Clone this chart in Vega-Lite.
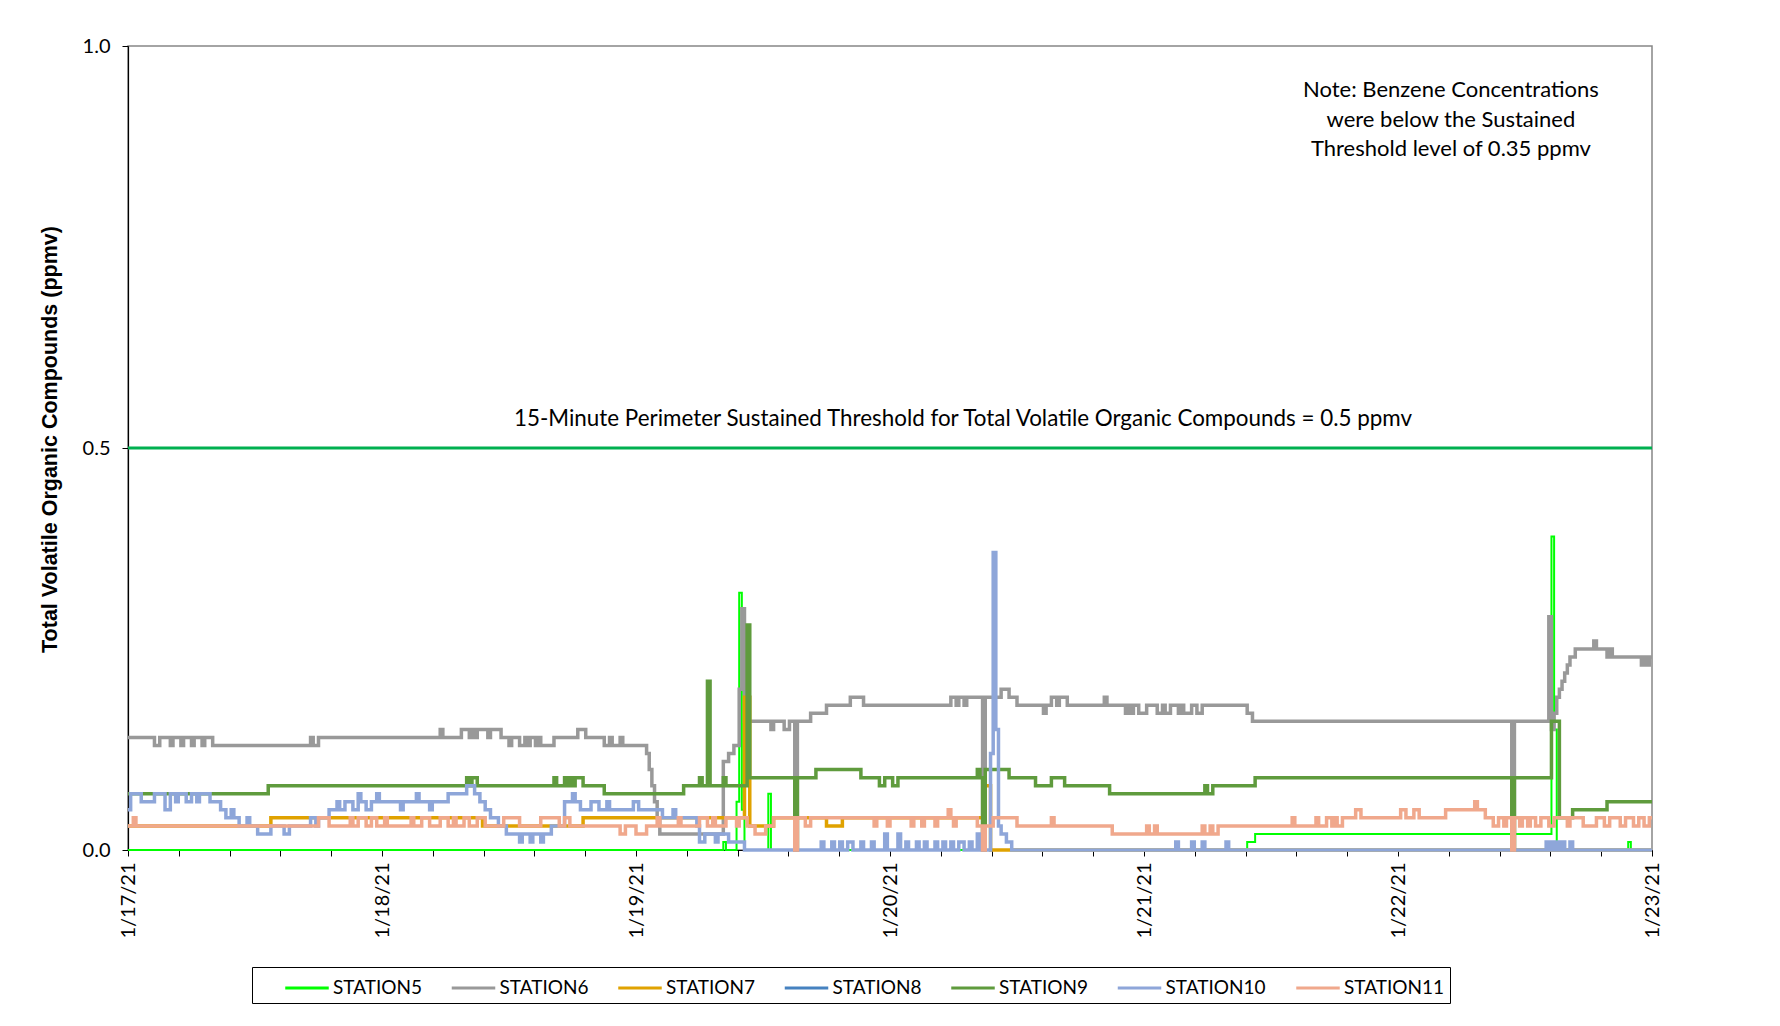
{
  "$schema": "https://vega.github.io/schema/vega-lite/v6.json",
  "autosize": "none",
  "width": 1524,
  "height": 804,
  "padding": {"left": 128, "top": 46, "right": 128, "bottom": 176},
  "background": "white",
  "config": {
    "view": {"stroke": "#868686", "strokeWidth": 1.5},
    "font": "Lato"
  },
  "data": {
    "values": [
      {"station":"STATION5","time":"2021-01-17T00:00","ppmv":0},
      {"station":"STATION5","time":"2021-01-19T08:15","ppmv":0.01},
      {"station":"STATION5","time":"2021-01-19T08:30","ppmv":0},
      {"station":"STATION5","time":"2021-01-19T09:30","ppmv":0.06},
      {"station":"STATION5","time":"2021-01-19T09:45","ppmv":0.32},
      {"station":"STATION5","time":"2021-01-19T10:00","ppmv":0.05},
      {"station":"STATION5","time":"2021-01-19T10:15","ppmv":0},
      {"station":"STATION5","time":"2021-01-19T12:30","ppmv":0.07},
      {"station":"STATION5","time":"2021-01-19T12:45","ppmv":0},
      {"station":"STATION5","time":"2021-01-21T09:45","ppmv":0.01},
      {"station":"STATION5","time":"2021-01-21T10:30","ppmv":0.02},
      {"station":"STATION5","time":"2021-01-22T14:30","ppmv":0.39},
      {"station":"STATION5","time":"2021-01-22T14:45","ppmv":0.15},
      {"station":"STATION5","time":"2021-01-22T15:00","ppmv":0},
      {"station":"STATION5","time":"2021-01-22T21:45","ppmv":0.01},
      {"station":"STATION5","time":"2021-01-22T22:00","ppmv":0},
      {"station":"STATION5","time":"2021-01-23T00:00","ppmv":0},

      {"station":"STATION6","time":"2021-01-17T00:00","ppmv":0.14},
      {"station":"STATION6","time":"2021-01-17T02:30","ppmv":0.13},
      {"station":"STATION6","time":"2021-01-17T03:00","ppmv":0.14},
      {"station":"STATION6","time":"2021-01-17T04:00","ppmv":0.13},
      {"station":"STATION6","time":"2021-01-17T04:15","ppmv":0.14},
      {"station":"STATION6","time":"2021-01-17T05:00","ppmv":0.13},
      {"station":"STATION6","time":"2021-01-17T05:15","ppmv":0.14},
      {"station":"STATION6","time":"2021-01-17T06:00","ppmv":0.13},
      {"station":"STATION6","time":"2021-01-17T06:15","ppmv":0.14},
      {"station":"STATION6","time":"2021-01-17T07:00","ppmv":0.13},
      {"station":"STATION6","time":"2021-01-17T07:15","ppmv":0.14},
      {"station":"STATION6","time":"2021-01-17T08:00","ppmv":0.13},
      {"station":"STATION6","time":"2021-01-17T17:15","ppmv":0.14},
      {"station":"STATION6","time":"2021-01-17T17:30","ppmv":0.13},
      {"station":"STATION6","time":"2021-01-17T18:00","ppmv":0.14},
      {"station":"STATION6","time":"2021-01-18T05:30","ppmv":0.15},
      {"station":"STATION6","time":"2021-01-18T05:45","ppmv":0.14},
      {"station":"STATION6","time":"2021-01-18T07:30","ppmv":0.15},
      {"station":"STATION6","time":"2021-01-18T08:15","ppmv":0.14},
      {"station":"STATION6","time":"2021-01-18T08:30","ppmv":0.15},
      {"station":"STATION6","time":"2021-01-18T08:45","ppmv":0.14},
      {"station":"STATION6","time":"2021-01-18T09:00","ppmv":0.15},
      {"station":"STATION6","time":"2021-01-18T10:00","ppmv":0.14},
      {"station":"STATION6","time":"2021-01-18T10:15","ppmv":0.15},
      {"station":"STATION6","time":"2021-01-18T11:15","ppmv":0.14},
      {"station":"STATION6","time":"2021-01-18T12:00","ppmv":0.13},
      {"station":"STATION6","time":"2021-01-18T12:15","ppmv":0.14},
      {"station":"STATION6","time":"2021-01-18T13:00","ppmv":0.13},
      {"station":"STATION6","time":"2021-01-18T13:30","ppmv":0.14},
      {"station":"STATION6","time":"2021-01-18T13:45","ppmv":0.13},
      {"station":"STATION6","time":"2021-01-18T14:00","ppmv":0.14},
      {"station":"STATION6","time":"2021-01-18T14:30","ppmv":0.13},
      {"station":"STATION6","time":"2021-01-18T14:45","ppmv":0.14},
      {"station":"STATION6","time":"2021-01-18T15:00","ppmv":0.13},
      {"station":"STATION6","time":"2021-01-18T16:15","ppmv":0.14},
      {"station":"STATION6","time":"2021-01-18T18:30","ppmv":0.15},
      {"station":"STATION6","time":"2021-01-18T19:15","ppmv":0.14},
      {"station":"STATION6","time":"2021-01-18T21:00","ppmv":0.13},
      {"station":"STATION6","time":"2021-01-18T21:30","ppmv":0.14},
      {"station":"STATION6","time":"2021-01-18T21:45","ppmv":0.13},
      {"station":"STATION6","time":"2021-01-18T22:30","ppmv":0.14},
      {"station":"STATION6","time":"2021-01-18T22:45","ppmv":0.13},
      {"station":"STATION6","time":"2021-01-19T01:00","ppmv":0.12},
      {"station":"STATION6","time":"2021-01-19T01:15","ppmv":0.10},
      {"station":"STATION6","time":"2021-01-19T01:30","ppmv":0.08},
      {"station":"STATION6","time":"2021-01-19T01:45","ppmv":0.06},
      {"station":"STATION6","time":"2021-01-19T02:00","ppmv":0.04},
      {"station":"STATION6","time":"2021-01-19T02:15","ppmv":0.02},
      {"station":"STATION6","time":"2021-01-19T08:15","ppmv":0.11},
      {"station":"STATION6","time":"2021-01-19T08:45","ppmv":0.12},
      {"station":"STATION6","time":"2021-01-19T09:15","ppmv":0.13},
      {"station":"STATION6","time":"2021-01-19T09:45","ppmv":0.20},
      {"station":"STATION6","time":"2021-01-19T10:00","ppmv":0.30},
      {"station":"STATION6","time":"2021-01-19T10:15","ppmv":0.16},
      {"station":"STATION6","time":"2021-01-19T12:45","ppmv":0.15},
      {"station":"STATION6","time":"2021-01-19T13:00","ppmv":0.16},
      {"station":"STATION6","time":"2021-01-19T14:00","ppmv":0.15},
      {"station":"STATION6","time":"2021-01-19T14:30","ppmv":0.16},
      {"station":"STATION6","time":"2021-01-19T15:00","ppmv":0},
      {"station":"STATION6","time":"2021-01-19T15:15","ppmv":0.16},
      {"station":"STATION6","time":"2021-01-19T16:30","ppmv":0.17},
      {"station":"STATION6","time":"2021-01-19T18:00","ppmv":0.18},
      {"station":"STATION6","time":"2021-01-19T20:15","ppmv":0.19},
      {"station":"STATION6","time":"2021-01-19T21:30","ppmv":0.18},
      {"station":"STATION6","time":"2021-01-20T05:45","ppmv":0.19},
      {"station":"STATION6","time":"2021-01-20T06:15","ppmv":0.18},
      {"station":"STATION6","time":"2021-01-20T06:30","ppmv":0.19},
      {"station":"STATION6","time":"2021-01-20T07:00","ppmv":0.18},
      {"station":"STATION6","time":"2021-01-20T07:15","ppmv":0.19},
      {"station":"STATION6","time":"2021-01-20T08:45","ppmv":0},
      {"station":"STATION6","time":"2021-01-20T09:00","ppmv":0.19},
      {"station":"STATION6","time":"2021-01-20T10:30","ppmv":0.20},
      {"station":"STATION6","time":"2021-01-20T11:15","ppmv":0.19},
      {"station":"STATION6","time":"2021-01-20T12:00","ppmv":0.18},
      {"station":"STATION6","time":"2021-01-20T14:30","ppmv":0.17},
      {"station":"STATION6","time":"2021-01-20T14:45","ppmv":0.18},
      {"station":"STATION6","time":"2021-01-20T15:15","ppmv":0.19},
      {"station":"STATION6","time":"2021-01-20T15:45","ppmv":0.18},
      {"station":"STATION6","time":"2021-01-20T16:00","ppmv":0.19},
      {"station":"STATION6","time":"2021-01-20T16:45","ppmv":0.18},
      {"station":"STATION6","time":"2021-01-20T20:15","ppmv":0.19},
      {"station":"STATION6","time":"2021-01-20T20:30","ppmv":0.18},
      {"station":"STATION6","time":"2021-01-20T22:15","ppmv":0.17},
      {"station":"STATION6","time":"2021-01-20T22:30","ppmv":0.18},
      {"station":"STATION6","time":"2021-01-20T22:45","ppmv":0.17},
      {"station":"STATION6","time":"2021-01-20T23:00","ppmv":0.18},
      {"station":"STATION6","time":"2021-01-20T23:30","ppmv":0.17},
      {"station":"STATION6","time":"2021-01-21T00:15","ppmv":0.18},
      {"station":"STATION6","time":"2021-01-21T01:15","ppmv":0.17},
      {"station":"STATION6","time":"2021-01-21T01:45","ppmv":0.18},
      {"station":"STATION6","time":"2021-01-21T02:00","ppmv":0.17},
      {"station":"STATION6","time":"2021-01-21T02:30","ppmv":0.18},
      {"station":"STATION6","time":"2021-01-21T03:15","ppmv":0.17},
      {"station":"STATION6","time":"2021-01-21T03:30","ppmv":0.18},
      {"station":"STATION6","time":"2021-01-21T03:45","ppmv":0.17},
      {"station":"STATION6","time":"2021-01-21T04:30","ppmv":0.18},
      {"station":"STATION6","time":"2021-01-21T05:00","ppmv":0.17},
      {"station":"STATION6","time":"2021-01-21T05:30","ppmv":0.18},
      {"station":"STATION6","time":"2021-01-21T09:45","ppmv":0.17},
      {"station":"STATION6","time":"2021-01-21T10:15","ppmv":0.16},
      {"station":"STATION6","time":"2021-01-22T10:45","ppmv":0},
      {"station":"STATION6","time":"2021-01-22T11:00","ppmv":0.16},
      {"station":"STATION6","time":"2021-01-22T14:15","ppmv":0.29},
      {"station":"STATION6","time":"2021-01-22T14:30","ppmv":0.15},
      {"station":"STATION6","time":"2021-01-22T14:45","ppmv":0.17},
      {"station":"STATION6","time":"2021-01-22T15:00","ppmv":0.19},
      {"station":"STATION6","time":"2021-01-22T15:15","ppmv":0.20},
      {"station":"STATION6","time":"2021-01-22T15:30","ppmv":0.21},
      {"station":"STATION6","time":"2021-01-22T15:45","ppmv":0.22},
      {"station":"STATION6","time":"2021-01-22T16:00","ppmv":0.23},
      {"station":"STATION6","time":"2021-01-22T16:15","ppmv":0.24},
      {"station":"STATION6","time":"2021-01-22T16:45","ppmv":0.25},
      {"station":"STATION6","time":"2021-01-22T18:30","ppmv":0.26},
      {"station":"STATION6","time":"2021-01-22T18:45","ppmv":0.25},
      {"station":"STATION6","time":"2021-01-22T19:45","ppmv":0.24},
      {"station":"STATION6","time":"2021-01-22T20:00","ppmv":0.25},
      {"station":"STATION6","time":"2021-01-22T20:15","ppmv":0.24},
      {"station":"STATION6","time":"2021-01-22T23:00","ppmv":0.23},
      {"station":"STATION6","time":"2021-01-22T23:15","ppmv":0.24},
      {"station":"STATION6","time":"2021-01-22T23:30","ppmv":0.23},
      {"station":"STATION6","time":"2021-01-22T23:45","ppmv":0.24},
      {"station":"STATION6","time":"2021-01-23T00:00","ppmv":0.24},

      {"station":"STATION7","time":"2021-01-17T00:00","ppmv":0.03},
      {"station":"STATION7","time":"2021-01-17T13:30","ppmv":0.04},
      {"station":"STATION7","time":"2021-01-18T09:30","ppmv":0.03},
      {"station":"STATION7","time":"2021-01-18T19:00","ppmv":0.04},
      {"station":"STATION7","time":"2021-01-19T10:15","ppmv":0.19},
      {"station":"STATION7","time":"2021-01-19T10:45","ppmv":0.03},
      {"station":"STATION7","time":"2021-01-19T13:00","ppmv":0.04},
      {"station":"STATION7","time":"2021-01-19T18:00","ppmv":0.03},
      {"station":"STATION7","time":"2021-01-19T19:30","ppmv":0.04},
      {"station":"STATION7","time":"2021-01-20T09:00","ppmv":0.08},
      {"station":"STATION7","time":"2021-01-20T09:30","ppmv":0},
      {"station":"STATION7","time":"2021-01-23T00:00","ppmv":0},

      {"station":"STATION9","time":"2021-01-17T00:00","ppmv":0.07},
      {"station":"STATION9","time":"2021-01-17T13:15","ppmv":0.08},
      {"station":"STATION9","time":"2021-01-18T08:00","ppmv":0.09},
      {"station":"STATION9","time":"2021-01-18T08:15","ppmv":0.08},
      {"station":"STATION9","time":"2021-01-18T08:30","ppmv":0.09},
      {"station":"STATION9","time":"2021-01-18T09:00","ppmv":0.08},
      {"station":"STATION9","time":"2021-01-18T16:15","ppmv":0.09},
      {"station":"STATION9","time":"2021-01-18T16:30","ppmv":0.08},
      {"station":"STATION9","time":"2021-01-18T17:15","ppmv":0.09},
      {"station":"STATION9","time":"2021-01-18T17:30","ppmv":0.08},
      {"station":"STATION9","time":"2021-01-18T17:45","ppmv":0.09},
      {"station":"STATION9","time":"2021-01-18T18:00","ppmv":0.08},
      {"station":"STATION9","time":"2021-01-18T18:15","ppmv":0.09},
      {"station":"STATION9","time":"2021-01-18T19:00","ppmv":0.08},
      {"station":"STATION9","time":"2021-01-18T21:00","ppmv":0.07},
      {"station":"STATION9","time":"2021-01-19T04:30","ppmv":0.08},
      {"station":"STATION9","time":"2021-01-19T06:00","ppmv":0.09},
      {"station":"STATION9","time":"2021-01-19T06:15","ppmv":0.08},
      {"station":"STATION9","time":"2021-01-19T06:45","ppmv":0.21},
      {"station":"STATION9","time":"2021-01-19T07:00","ppmv":0.08},
      {"station":"STATION9","time":"2021-01-19T08:15","ppmv":0.09},
      {"station":"STATION9","time":"2021-01-19T08:30","ppmv":0.08},
      {"station":"STATION9","time":"2021-01-19T10:30","ppmv":0.28},
      {"station":"STATION9","time":"2021-01-19T10:45","ppmv":0.09},
      {"station":"STATION9","time":"2021-01-19T15:00","ppmv":0},
      {"station":"STATION9","time":"2021-01-19T15:15","ppmv":0.09},
      {"station":"STATION9","time":"2021-01-19T17:00","ppmv":0.10},
      {"station":"STATION9","time":"2021-01-19T21:15","ppmv":0.09},
      {"station":"STATION9","time":"2021-01-19T23:00","ppmv":0.08},
      {"station":"STATION9","time":"2021-01-19T23:30","ppmv":0.09},
      {"station":"STATION9","time":"2021-01-20T00:15","ppmv":0.08},
      {"station":"STATION9","time":"2021-01-20T00:45","ppmv":0.09},
      {"station":"STATION9","time":"2021-01-20T08:15","ppmv":0.10},
      {"station":"STATION9","time":"2021-01-20T08:30","ppmv":0.09},
      {"station":"STATION9","time":"2021-01-20T08:45","ppmv":0},
      {"station":"STATION9","time":"2021-01-20T09:00","ppmv":0.10},
      {"station":"STATION9","time":"2021-01-20T11:15","ppmv":0.09},
      {"station":"STATION9","time":"2021-01-20T13:45","ppmv":0.08},
      {"station":"STATION9","time":"2021-01-20T15:15","ppmv":0.09},
      {"station":"STATION9","time":"2021-01-20T16:30","ppmv":0.08},
      {"station":"STATION9","time":"2021-01-20T20:45","ppmv":0.07},
      {"station":"STATION9","time":"2021-01-21T05:45","ppmv":0.08},
      {"station":"STATION9","time":"2021-01-21T06:00","ppmv":0.07},
      {"station":"STATION9","time":"2021-01-21T06:30","ppmv":0.08},
      {"station":"STATION9","time":"2021-01-21T10:30","ppmv":0.09},
      {"station":"STATION9","time":"2021-01-22T10:45","ppmv":0},
      {"station":"STATION9","time":"2021-01-22T11:00","ppmv":0.09},
      {"station":"STATION9","time":"2021-01-22T14:30","ppmv":0.16},
      {"station":"STATION9","time":"2021-01-22T15:15","ppmv":0.04},
      {"station":"STATION9","time":"2021-01-22T16:30","ppmv":0.05},
      {"station":"STATION9","time":"2021-01-22T19:45","ppmv":0.06},
      {"station":"STATION9","time":"2021-01-23T00:00","ppmv":0.06},

      {"station":"STATION10","time":"2021-01-17T00:00","ppmv":0.05},
      {"station":"STATION10","time":"2021-01-17T00:15","ppmv":0.07},
      {"station":"STATION10","time":"2021-01-17T01:15","ppmv":0.06},
      {"station":"STATION10","time":"2021-01-17T02:30","ppmv":0.07},
      {"station":"STATION10","time":"2021-01-17T03:30","ppmv":0.05},
      {"station":"STATION10","time":"2021-01-17T04:00","ppmv":0.07},
      {"station":"STATION10","time":"2021-01-17T04:30","ppmv":0.06},
      {"station":"STATION10","time":"2021-01-17T04:45","ppmv":0.07},
      {"station":"STATION10","time":"2021-01-17T05:30","ppmv":0.06},
      {"station":"STATION10","time":"2021-01-17T06:00","ppmv":0.07},
      {"station":"STATION10","time":"2021-01-17T06:30","ppmv":0.06},
      {"station":"STATION10","time":"2021-01-17T06:45","ppmv":0.07},
      {"station":"STATION10","time":"2021-01-17T07:45","ppmv":0.06},
      {"station":"STATION10","time":"2021-01-17T08:45","ppmv":0.05},
      {"station":"STATION10","time":"2021-01-17T09:15","ppmv":0.04},
      {"station":"STATION10","time":"2021-01-17T09:45","ppmv":0.05},
      {"station":"STATION10","time":"2021-01-17T10:00","ppmv":0.04},
      {"station":"STATION10","time":"2021-01-17T10:30","ppmv":0.03},
      {"station":"STATION10","time":"2021-01-17T11:15","ppmv":0.04},
      {"station":"STATION10","time":"2021-01-17T11:30","ppmv":0.03},
      {"station":"STATION10","time":"2021-01-17T12:15","ppmv":0.02},
      {"station":"STATION10","time":"2021-01-17T13:30","ppmv":0.03},
      {"station":"STATION10","time":"2021-01-17T14:45","ppmv":0.02},
      {"station":"STATION10","time":"2021-01-17T15:15","ppmv":0.03},
      {"station":"STATION10","time":"2021-01-17T17:15","ppmv":0.04},
      {"station":"STATION10","time":"2021-01-17T17:45","ppmv":0.03},
      {"station":"STATION10","time":"2021-01-17T18:00","ppmv":0.04},
      {"station":"STATION10","time":"2021-01-17T19:00","ppmv":0.05},
      {"station":"STATION10","time":"2021-01-17T19:45","ppmv":0.06},
      {"station":"STATION10","time":"2021-01-17T20:00","ppmv":0.05},
      {"station":"STATION10","time":"2021-01-17T20:30","ppmv":0.06},
      {"station":"STATION10","time":"2021-01-17T21:15","ppmv":0.05},
      {"station":"STATION10","time":"2021-01-17T21:45","ppmv":0.07},
      {"station":"STATION10","time":"2021-01-17T22:00","ppmv":0.06},
      {"station":"STATION10","time":"2021-01-17T22:30","ppmv":0.05},
      {"station":"STATION10","time":"2021-01-17T23:00","ppmv":0.06},
      {"station":"STATION10","time":"2021-01-17T23:30","ppmv":0.07},
      {"station":"STATION10","time":"2021-01-17T23:45","ppmv":0.06},
      {"station":"STATION10","time":"2021-01-18T01:45","ppmv":0.05},
      {"station":"STATION10","time":"2021-01-18T02:00","ppmv":0.06},
      {"station":"STATION10","time":"2021-01-18T03:15","ppmv":0.07},
      {"station":"STATION10","time":"2021-01-18T03:30","ppmv":0.06},
      {"station":"STATION10","time":"2021-01-18T04:30","ppmv":0.05},
      {"station":"STATION10","time":"2021-01-18T04:45","ppmv":0.06},
      {"station":"STATION10","time":"2021-01-18T06:15","ppmv":0.07},
      {"station":"STATION10","time":"2021-01-18T08:00","ppmv":0.08},
      {"station":"STATION10","time":"2021-01-18T08:45","ppmv":0.07},
      {"station":"STATION10","time":"2021-01-18T09:15","ppmv":0.06},
      {"station":"STATION10","time":"2021-01-18T09:45","ppmv":0.05},
      {"station":"STATION10","time":"2021-01-18T10:15","ppmv":0.04},
      {"station":"STATION10","time":"2021-01-18T11:00","ppmv":0.03},
      {"station":"STATION10","time":"2021-01-18T11:45","ppmv":0.02},
      {"station":"STATION10","time":"2021-01-18T13:00","ppmv":0.01},
      {"station":"STATION10","time":"2021-01-18T13:15","ppmv":0.02},
      {"station":"STATION10","time":"2021-01-18T14:00","ppmv":0.01},
      {"station":"STATION10","time":"2021-01-18T14:15","ppmv":0.02},
      {"station":"STATION10","time":"2021-01-18T15:00","ppmv":0.01},
      {"station":"STATION10","time":"2021-01-18T15:15","ppmv":0.02},
      {"station":"STATION10","time":"2021-01-18T16:00","ppmv":0.03},
      {"station":"STATION10","time":"2021-01-18T17:15","ppmv":0.06},
      {"station":"STATION10","time":"2021-01-18T18:00","ppmv":0.07},
      {"station":"STATION10","time":"2021-01-18T18:15","ppmv":0.06},
      {"station":"STATION10","time":"2021-01-18T18:45","ppmv":0.05},
      {"station":"STATION10","time":"2021-01-18T19:45","ppmv":0.06},
      {"station":"STATION10","time":"2021-01-18T20:30","ppmv":0.05},
      {"station":"STATION10","time":"2021-01-18T21:15","ppmv":0.06},
      {"station":"STATION10","time":"2021-01-18T21:30","ppmv":0.05},
      {"station":"STATION10","time":"2021-01-18T23:45","ppmv":0.06},
      {"station":"STATION10","time":"2021-01-19T00:15","ppmv":0.05},
      {"station":"STATION10","time":"2021-01-19T02:30","ppmv":0.04},
      {"station":"STATION10","time":"2021-01-19T03:30","ppmv":0.05},
      {"station":"STATION10","time":"2021-01-19T03:45","ppmv":0.04},
      {"station":"STATION10","time":"2021-01-19T05:45","ppmv":0.03},
      {"station":"STATION10","time":"2021-01-19T06:00","ppmv":0.01},
      {"station":"STATION10","time":"2021-01-19T06:30","ppmv":0.02},
      {"station":"STATION10","time":"2021-01-19T07:30","ppmv":0.01},
      {"station":"STATION10","time":"2021-01-19T07:45","ppmv":0.02},
      {"station":"STATION10","time":"2021-01-19T08:45","ppmv":0.01},
      {"station":"STATION10","time":"2021-01-19T10:15","ppmv":0},
      {"station":"STATION10","time":"2021-01-19T17:30","ppmv":0.01},
      {"station":"STATION10","time":"2021-01-19T17:45","ppmv":0},
      {"station":"STATION10","time":"2021-01-19T18:30","ppmv":0.01},
      {"station":"STATION10","time":"2021-01-19T18:45","ppmv":0},
      {"station":"STATION10","time":"2021-01-19T19:15","ppmv":0.01},
      {"station":"STATION10","time":"2021-01-19T19:30","ppmv":0},
      {"station":"STATION10","time":"2021-01-19T20:00","ppmv":0.01},
      {"station":"STATION10","time":"2021-01-19T20:30","ppmv":0},
      {"station":"STATION10","time":"2021-01-19T21:15","ppmv":0.01},
      {"station":"STATION10","time":"2021-01-19T21:30","ppmv":0},
      {"station":"STATION10","time":"2021-01-19T22:15","ppmv":0.01},
      {"station":"STATION10","time":"2021-01-19T22:30","ppmv":0},
      {"station":"STATION10","time":"2021-01-19T23:30","ppmv":0.02},
      {"station":"STATION10","time":"2021-01-19T23:45","ppmv":0},
      {"station":"STATION10","time":"2021-01-20T00:45","ppmv":0.02},
      {"station":"STATION10","time":"2021-01-20T01:00","ppmv":0},
      {"station":"STATION10","time":"2021-01-20T01:30","ppmv":0.01},
      {"station":"STATION10","time":"2021-01-20T01:45","ppmv":0},
      {"station":"STATION10","time":"2021-01-20T02:30","ppmv":0.01},
      {"station":"STATION10","time":"2021-01-20T02:45","ppmv":0},
      {"station":"STATION10","time":"2021-01-20T03:15","ppmv":0.01},
      {"station":"STATION10","time":"2021-01-20T03:30","ppmv":0},
      {"station":"STATION10","time":"2021-01-20T04:15","ppmv":0.01},
      {"station":"STATION10","time":"2021-01-20T04:30","ppmv":0},
      {"station":"STATION10","time":"2021-01-20T05:00","ppmv":0.01},
      {"station":"STATION10","time":"2021-01-20T05:15","ppmv":0},
      {"station":"STATION10","time":"2021-01-20T05:45","ppmv":0.01},
      {"station":"STATION10","time":"2021-01-20T06:00","ppmv":0},
      {"station":"STATION10","time":"2021-01-20T06:30","ppmv":0.01},
      {"station":"STATION10","time":"2021-01-20T07:00","ppmv":0},
      {"station":"STATION10","time":"2021-01-20T07:30","ppmv":0.01},
      {"station":"STATION10","time":"2021-01-20T07:45","ppmv":0},
      {"station":"STATION10","time":"2021-01-20T08:15","ppmv":0.02},
      {"station":"STATION10","time":"2021-01-20T08:30","ppmv":0},
      {"station":"STATION10","time":"2021-01-20T09:30","ppmv":0.12},
      {"station":"STATION10","time":"2021-01-20T09:45","ppmv":0.37},
      {"station":"STATION10","time":"2021-01-20T10:00","ppmv":0.15},
      {"station":"STATION10","time":"2021-01-20T10:15","ppmv":0.03},
      {"station":"STATION10","time":"2021-01-20T10:30","ppmv":0.02},
      {"station":"STATION10","time":"2021-01-20T11:00","ppmv":0.01},
      {"station":"STATION10","time":"2021-01-20T11:30","ppmv":0},
      {"station":"STATION10","time":"2021-01-21T03:00","ppmv":0.01},
      {"station":"STATION10","time":"2021-01-21T03:15","ppmv":0},
      {"station":"STATION10","time":"2021-01-21T04:30","ppmv":0.01},
      {"station":"STATION10","time":"2021-01-21T04:45","ppmv":0},
      {"station":"STATION10","time":"2021-01-21T05:30","ppmv":0.01},
      {"station":"STATION10","time":"2021-01-21T05:45","ppmv":0},
      {"station":"STATION10","time":"2021-01-21T07:45","ppmv":0.01},
      {"station":"STATION10","time":"2021-01-21T08:00","ppmv":0},
      {"station":"STATION10","time":"2021-01-22T14:00","ppmv":0.01},
      {"station":"STATION10","time":"2021-01-22T14:15","ppmv":0},
      {"station":"STATION10","time":"2021-01-22T14:30","ppmv":0.01},
      {"station":"STATION10","time":"2021-01-22T14:45","ppmv":0},
      {"station":"STATION10","time":"2021-01-22T15:00","ppmv":0.01},
      {"station":"STATION10","time":"2021-01-22T15:15","ppmv":0},
      {"station":"STATION10","time":"2021-01-22T15:30","ppmv":0.01},
      {"station":"STATION10","time":"2021-01-22T15:45","ppmv":0},
      {"station":"STATION10","time":"2021-01-22T16:15","ppmv":0.01},
      {"station":"STATION10","time":"2021-01-22T16:30","ppmv":0},
      {"station":"STATION10","time":"2021-01-23T00:00","ppmv":0},

      {"station":"STATION11","time":"2021-01-17T00:00","ppmv":0.03},
      {"station":"STATION11","time":"2021-01-17T00:30","ppmv":0.04},
      {"station":"STATION11","time":"2021-01-17T00:45","ppmv":0.03},
      {"station":"STATION11","time":"2021-01-17T18:00","ppmv":0.04},
      {"station":"STATION11","time":"2021-01-17T19:00","ppmv":0.03},
      {"station":"STATION11","time":"2021-01-17T21:00","ppmv":0.04},
      {"station":"STATION11","time":"2021-01-17T21:15","ppmv":0.03},
      {"station":"STATION11","time":"2021-01-17T21:45","ppmv":0.04},
      {"station":"STATION11","time":"2021-01-17T22:30","ppmv":0.03},
      {"station":"STATION11","time":"2021-01-17T23:00","ppmv":0.04},
      {"station":"STATION11","time":"2021-01-17T23:30","ppmv":0.03},
      {"station":"STATION11","time":"2021-01-18T00:15","ppmv":0.04},
      {"station":"STATION11","time":"2021-01-18T00:30","ppmv":0.03},
      {"station":"STATION11","time":"2021-01-18T02:45","ppmv":0.04},
      {"station":"STATION11","time":"2021-01-18T03:00","ppmv":0.03},
      {"station":"STATION11","time":"2021-01-18T03:45","ppmv":0.04},
      {"station":"STATION11","time":"2021-01-18T04:30","ppmv":0.03},
      {"station":"STATION11","time":"2021-01-18T05:30","ppmv":0.04},
      {"station":"STATION11","time":"2021-01-18T06:15","ppmv":0.03},
      {"station":"STATION11","time":"2021-01-18T06:45","ppmv":0.04},
      {"station":"STATION11","time":"2021-01-18T07:00","ppmv":0.03},
      {"station":"STATION11","time":"2021-01-18T07:45","ppmv":0.04},
      {"station":"STATION11","time":"2021-01-18T08:15","ppmv":0.03},
      {"station":"STATION11","time":"2021-01-18T09:00","ppmv":0.04},
      {"station":"STATION11","time":"2021-01-18T09:45","ppmv":0.03},
      {"station":"STATION11","time":"2021-01-18T11:30","ppmv":0.04},
      {"station":"STATION11","time":"2021-01-18T13:00","ppmv":0.03},
      {"station":"STATION11","time":"2021-01-18T15:00","ppmv":0.04},
      {"station":"STATION11","time":"2021-01-18T16:45","ppmv":0.03},
      {"station":"STATION11","time":"2021-01-18T17:15","ppmv":0.04},
      {"station":"STATION11","time":"2021-01-18T17:45","ppmv":0.03},
      {"station":"STATION11","time":"2021-01-18T22:30","ppmv":0.02},
      {"station":"STATION11","time":"2021-01-18T23:00","ppmv":0.03},
      {"station":"STATION11","time":"2021-01-19T00:00","ppmv":0.02},
      {"station":"STATION11","time":"2021-01-19T01:00","ppmv":0.03},
      {"station":"STATION11","time":"2021-01-19T02:00","ppmv":0.04},
      {"station":"STATION11","time":"2021-01-19T02:15","ppmv":0.03},
      {"station":"STATION11","time":"2021-01-19T04:00","ppmv":0.04},
      {"station":"STATION11","time":"2021-01-19T04:15","ppmv":0.03},
      {"station":"STATION11","time":"2021-01-19T06:00","ppmv":0.04},
      {"station":"STATION11","time":"2021-01-19T06:45","ppmv":0.03},
      {"station":"STATION11","time":"2021-01-19T07:15","ppmv":0.04},
      {"station":"STATION11","time":"2021-01-19T07:30","ppmv":0.03},
      {"station":"STATION11","time":"2021-01-19T08:30","ppmv":0.04},
      {"station":"STATION11","time":"2021-01-19T09:30","ppmv":0.03},
      {"station":"STATION11","time":"2021-01-19T09:45","ppmv":0.04},
      {"station":"STATION11","time":"2021-01-19T10:30","ppmv":0.03},
      {"station":"STATION11","time":"2021-01-19T11:15","ppmv":0.02},
      {"station":"STATION11","time":"2021-01-19T12:15","ppmv":0.03},
      {"station":"STATION11","time":"2021-01-19T13:00","ppmv":0.04},
      {"station":"STATION11","time":"2021-01-19T15:00","ppmv":0},
      {"station":"STATION11","time":"2021-01-19T15:15","ppmv":0.04},
      {"station":"STATION11","time":"2021-01-19T16:00","ppmv":0.03},
      {"station":"STATION11","time":"2021-01-19T16:30","ppmv":0.04},
      {"station":"STATION11","time":"2021-01-19T22:30","ppmv":0.03},
      {"station":"STATION11","time":"2021-01-19T22:45","ppmv":0.04},
      {"station":"STATION11","time":"2021-01-19T23:45","ppmv":0.03},
      {"station":"STATION11","time":"2021-01-20T00:00","ppmv":0.04},
      {"station":"STATION11","time":"2021-01-20T02:00","ppmv":0.03},
      {"station":"STATION11","time":"2021-01-20T02:15","ppmv":0.04},
      {"station":"STATION11","time":"2021-01-20T03:00","ppmv":0.03},
      {"station":"STATION11","time":"2021-01-20T03:15","ppmv":0.04},
      {"station":"STATION11","time":"2021-01-20T04:15","ppmv":0.03},
      {"station":"STATION11","time":"2021-01-20T04:30","ppmv":0.04},
      {"station":"STATION11","time":"2021-01-20T05:30","ppmv":0.05},
      {"station":"STATION11","time":"2021-01-20T05:45","ppmv":0.04},
      {"station":"STATION11","time":"2021-01-20T06:00","ppmv":0.03},
      {"station":"STATION11","time":"2021-01-20T06:15","ppmv":0.04},
      {"station":"STATION11","time":"2021-01-20T08:15","ppmv":0.03},
      {"station":"STATION11","time":"2021-01-20T08:45","ppmv":0},
      {"station":"STATION11","time":"2021-01-20T09:00","ppmv":0.03},
      {"station":"STATION11","time":"2021-01-20T09:45","ppmv":0.04},
      {"station":"STATION11","time":"2021-01-20T12:00","ppmv":0.03},
      {"station":"STATION11","time":"2021-01-20T15:15","ppmv":0.04},
      {"station":"STATION11","time":"2021-01-20T15:30","ppmv":0.03},
      {"station":"STATION11","time":"2021-01-20T21:00","ppmv":0.02},
      {"station":"STATION11","time":"2021-01-21T00:15","ppmv":0.03},
      {"station":"STATION11","time":"2021-01-21T00:30","ppmv":0.02},
      {"station":"STATION11","time":"2021-01-21T01:00","ppmv":0.03},
      {"station":"STATION11","time":"2021-01-21T01:15","ppmv":0.02},
      {"station":"STATION11","time":"2021-01-21T05:30","ppmv":0.03},
      {"station":"STATION11","time":"2021-01-21T05:45","ppmv":0.02},
      {"station":"STATION11","time":"2021-01-21T06:15","ppmv":0.03},
      {"station":"STATION11","time":"2021-01-21T06:30","ppmv":0.02},
      {"station":"STATION11","time":"2021-01-21T07:00","ppmv":0.03},
      {"station":"STATION11","time":"2021-01-21T14:00","ppmv":0.04},
      {"station":"STATION11","time":"2021-01-21T14:15","ppmv":0.03},
      {"station":"STATION11","time":"2021-01-21T16:15","ppmv":0.04},
      {"station":"STATION11","time":"2021-01-21T16:30","ppmv":0.03},
      {"station":"STATION11","time":"2021-01-21T17:15","ppmv":0.04},
      {"station":"STATION11","time":"2021-01-21T17:45","ppmv":0.03},
      {"station":"STATION11","time":"2021-01-21T18:00","ppmv":0.04},
      {"station":"STATION11","time":"2021-01-21T18:15","ppmv":0.03},
      {"station":"STATION11","time":"2021-01-21T18:45","ppmv":0.04},
      {"station":"STATION11","time":"2021-01-21T20:00","ppmv":0.05},
      {"station":"STATION11","time":"2021-01-21T20:30","ppmv":0.04},
      {"station":"STATION11","time":"2021-01-22T00:15","ppmv":0.05},
      {"station":"STATION11","time":"2021-01-22T00:45","ppmv":0.04},
      {"station":"STATION11","time":"2021-01-22T01:30","ppmv":0.05},
      {"station":"STATION11","time":"2021-01-22T02:00","ppmv":0.04},
      {"station":"STATION11","time":"2021-01-22T04:30","ppmv":0.05},
      {"station":"STATION11","time":"2021-01-22T07:15","ppmv":0.06},
      {"station":"STATION11","time":"2021-01-22T07:30","ppmv":0.05},
      {"station":"STATION11","time":"2021-01-22T08:15","ppmv":0.04},
      {"station":"STATION11","time":"2021-01-22T09:00","ppmv":0.03},
      {"station":"STATION11","time":"2021-01-22T09:30","ppmv":0.04},
      {"station":"STATION11","time":"2021-01-22T10:00","ppmv":0.03},
      {"station":"STATION11","time":"2021-01-22T10:15","ppmv":0.04},
      {"station":"STATION11","time":"2021-01-22T10:45","ppmv":0},
      {"station":"STATION11","time":"2021-01-22T11:00","ppmv":0.04},
      {"station":"STATION11","time":"2021-01-22T11:30","ppmv":0.03},
      {"station":"STATION11","time":"2021-01-22T11:45","ppmv":0.04},
      {"station":"STATION11","time":"2021-01-22T12:15","ppmv":0.03},
      {"station":"STATION11","time":"2021-01-22T12:30","ppmv":0.04},
      {"station":"STATION11","time":"2021-01-22T13:00","ppmv":0.03},
      {"station":"STATION11","time":"2021-01-22T13:30","ppmv":0.04},
      {"station":"STATION11","time":"2021-01-22T14:15","ppmv":0.03},
      {"station":"STATION11","time":"2021-01-22T14:45","ppmv":0.04},
      {"station":"STATION11","time":"2021-01-22T16:00","ppmv":0.03},
      {"station":"STATION11","time":"2021-01-22T16:15","ppmv":0.04},
      {"station":"STATION11","time":"2021-01-22T17:30","ppmv":0.03},
      {"station":"STATION11","time":"2021-01-22T18:45","ppmv":0.04},
      {"station":"STATION11","time":"2021-01-22T19:30","ppmv":0.03},
      {"station":"STATION11","time":"2021-01-22T20:00","ppmv":0.04},
      {"station":"STATION11","time":"2021-01-22T21:00","ppmv":0.03},
      {"station":"STATION11","time":"2021-01-22T21:30","ppmv":0.04},
      {"station":"STATION11","time":"2021-01-22T22:15","ppmv":0.03},
      {"station":"STATION11","time":"2021-01-22T22:45","ppmv":0.04},
      {"station":"STATION11","time":"2021-01-22T23:15","ppmv":0.03},
      {"station":"STATION11","time":"2021-01-22T23:45","ppmv":0.04},
      {"station":"STATION11","time":"2021-01-23T00:00","ppmv":0.04}
    ]
  },
  "encoding": {
    "x": {
      "field": "time",
      "type": "temporal",
      "scale": {"domain": [{"year": 2021, "month": 1, "date": 17}, {"year": 2021, "month": 1, "date": 23}]},
      "axis": {
        "title": null,
        "grid": false,
        "values": [
          {"year":2021,"month":1,"date":17,"hours":0,"minutes":0},
          {"year":2021,"month":1,"date":17,"hours":4,"minutes":48},
          {"year":2021,"month":1,"date":17,"hours":9,"minutes":36},
          {"year":2021,"month":1,"date":17,"hours":14,"minutes":24},
          {"year":2021,"month":1,"date":17,"hours":19,"minutes":12},
          {"year":2021,"month":1,"date":18,"hours":0,"minutes":0},
          {"year":2021,"month":1,"date":18,"hours":4,"minutes":48},
          {"year":2021,"month":1,"date":18,"hours":9,"minutes":36},
          {"year":2021,"month":1,"date":18,"hours":14,"minutes":24},
          {"year":2021,"month":1,"date":18,"hours":19,"minutes":12},
          {"year":2021,"month":1,"date":19,"hours":0,"minutes":0},
          {"year":2021,"month":1,"date":19,"hours":4,"minutes":48},
          {"year":2021,"month":1,"date":19,"hours":9,"minutes":36},
          {"year":2021,"month":1,"date":19,"hours":14,"minutes":24},
          {"year":2021,"month":1,"date":19,"hours":19,"minutes":12},
          {"year":2021,"month":1,"date":20,"hours":0,"minutes":0},
          {"year":2021,"month":1,"date":20,"hours":4,"minutes":48},
          {"year":2021,"month":1,"date":20,"hours":9,"minutes":36},
          {"year":2021,"month":1,"date":20,"hours":14,"minutes":24},
          {"year":2021,"month":1,"date":20,"hours":19,"minutes":12},
          {"year":2021,"month":1,"date":21,"hours":0,"minutes":0},
          {"year":2021,"month":1,"date":21,"hours":4,"minutes":48},
          {"year":2021,"month":1,"date":21,"hours":9,"minutes":36},
          {"year":2021,"month":1,"date":21,"hours":14,"minutes":24},
          {"year":2021,"month":1,"date":21,"hours":19,"minutes":12},
          {"year":2021,"month":1,"date":22,"hours":0,"minutes":0},
          {"year":2021,"month":1,"date":22,"hours":4,"minutes":48},
          {"year":2021,"month":1,"date":22,"hours":9,"minutes":36},
          {"year":2021,"month":1,"date":22,"hours":14,"minutes":24},
          {"year":2021,"month":1,"date":22,"hours":19,"minutes":12},
          {"year":2021,"month":1,"date":23,"hours":0,"minutes":0}
        ],
        "labelExpr": "hours(datum.value) == 0 && minutes(datum.value) == 0 ? timeFormat(datum.value, '%-m/%-d/%y') : ''",
        "labelAngle": -90,
        "labelFont": "Lato",
        "labelFontSize": 20,
        "labelColor": "#000000",
        "labelOverlap": false,
        "labelFlush": false,
        "labelBound": false,
        "labelPadding": 6,
        "tickSize": 6,
        "tickColor": "#000000",
        "domainColor": "#000000",
        "domainWidth": 1.2
      }
    },
    "y": {
      "field": "ppmv",
      "type": "quantitative",
      "scale": {"domain": [0, 1]},
      "axis": {
        "title": "Total Volatile Organic Compounds  (ppmv)",
        "titleFont": "Liberation Sans",
        "titleFontWeight": "bold",
        "titleFontSize": 21.5,
        "titleColor": "#000000",
        "titlePadding": 21,
        "titleY": 393,
        "values": [0, 0.5, 1],
        "format": ".1f",
        "grid": false,
        "labelFont": "Lato",
        "labelFontSize": 20,
        "labelColor": "#000000",
        "labelPadding": 12,
        "tickSize": 6,
        "tickColor": "#000000",
        "domainColor": "#000000",
        "domainWidth": 1.2
      }
    },
    "color": {
      "field": "station",
      "type": "nominal",
      "scale": {
        "domain": ["STATION5", "STATION6", "STATION7", "STATION8", "STATION9", "STATION10", "STATION11"],
        "range": ["#00FF00", "#999999", "#E0A200", "#4682C0", "#5F9B3D", "#8EA6D9", "#F0A88C"]
      },
      "legend": {
        "title": null,
        "orient": "none",
        "legendX": 124,
        "legendY": 921,
        "direction": "horizontal",
        "columns": 7,
        "symbolType": "M-1.5,0H1.5",
        "symbolSize": 841,
        "symbolStrokeWidth": 3,
        "labelFont": "Lato",
        "labelFontSize": 19,
        "labelColor": "#000000",
        "strokeColor": "#000000",
        "padding": 5,
        "columnPadding": 1.5,
        "symbolOffset": 34,
        "labelOffset": 10,
        "labelLimit": 300
      }
    }
  },
  "layer": [
    {
      "transform": [{"filter": "datum.station == 'STATION5'"}],
      "mark": {"type": "line", "interpolate": "step-after", "strokeWidth": 2}
    },
    {
      "transform": [{"filter": "datum.station != 'STATION5'"}],
      "mark": {"type": "line", "interpolate": "step-after", "strokeWidth": 3.5}
    },
    {
      "data": {"values": [{"threshold": 0.5}]},
      "mark": {"type": "rule", "color": "#00B050", "strokeWidth": 3},
      "encoding": {"x": null, "color": null, "y": {"field": "threshold", "type": "quantitative"}}
    },
    {
      "data": {"values": [{"time": "2021-01-20T06:54", "ppmv": 0.536, "label": "15-Minute Perimeter Sustained Threshold for Total Volatile Organic Compounds = 0.5 ppmv"}]},
      "mark": {"type": "text", "font": "Lato", "fontSize": 22.4, "color": "#000000", "align": "center", "baseline": "middle"},
      "encoding": {
        "color": null,
        "text": {"field": "label"}
      }
    },
    {
      "data": {"values": [{"time": "2021-01-22T05:00", "ppmv": 0.945, "label": "Note: Benzene Concentrations\nwere below the Sustained\nThreshold level of 0.35 ppmv"}]},
      "mark": {"type": "text", "font": "Lato", "fontSize": 22, "color": "#000000", "align": "center", "baseline": "middle", "lineBreak": "\n", "lineHeight": 29.5},
      "encoding": {
        "color": null,
        "text": {"field": "label"}
      }
    }
  ]
}
